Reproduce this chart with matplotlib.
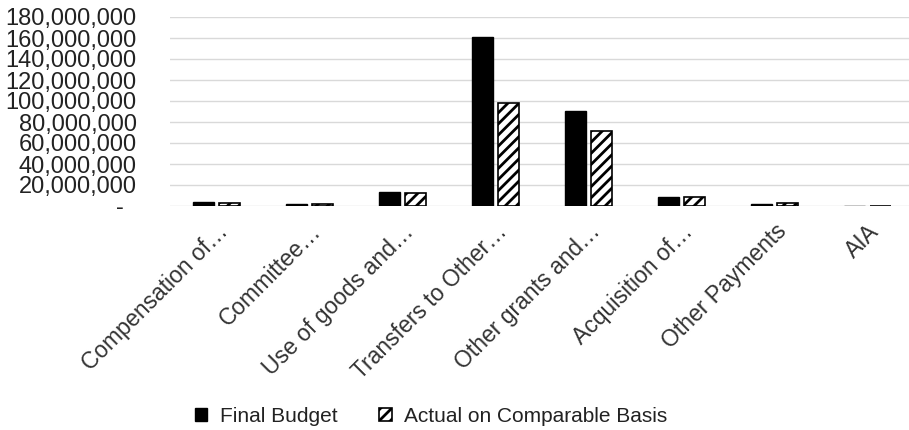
import matplotlib
matplotlib.use("Agg")
import matplotlib.pyplot as plt
import numpy as np
from matplotlib.ticker import FuncFormatter

categories = ["Compensation of…", "Committee…", "Use of goods and…", "Transfers to Other…",
              "Other grants and…", "Acquisition of…", "Other Payments", "AIA"]
final_budget = [4_000_000, 2_000_000, 13_000_000, 161_000_000, 90_500_000, 9_000_000, 2_000_000, 0]
actual = [3_000_000, 2_000_000, 12_500_000, 98_000_000, 71_000_000, 8_500_000, 3_000_000, 0]
yticks = list(range(0, 180_000_001, 20_000_000))

plt.rcParams['font.family'] = ['Liberation Sans', 'DejaVu Sans']
plt.rcParams['hatch.linewidth'] = 2.0

fig = plt.figure(figsize=(9.09, 4.30), dpi=100)
ax = fig.add_axes([170/909, 1 - 206/430, 744/909, (206 - 17)/430])

x = np.arange(len(categories))
w = 0.235
ax.bar(x - 0.14, final_budget, w, color='black', edgecolor='black', label='Final Budget', zorder=3)
ax.bar(x + 0.14, actual, w, color='white', edgecolor='black', hatch='///', linewidth=1.2,
       label='Actual on Comparable Basis', zorder=3)

ax.set_xlim(-0.5, len(categories) - 0.5)
ax.set_ylim(0, 180_000_000)
ax.set_yticks(yticks)
ax.yaxis.set_major_formatter(FuncFormatter(lambda v, p: "-  " if v == 0 else f"{int(v):,}"))
ax.tick_params(axis='y', length=0, pad=24, labelsize=17, labelcolor='#222222')
ax.set_xticks(x)
ax.set_xticklabels(categories, rotation=45, ha='right', rotation_mode='anchor', fontsize=16.5,
                   color='#333333')
ax.tick_params(axis='x', length=0, pad=10)
for s in ax.spines.values():
    s.set_visible(False)
ax.grid(axis='y', color='#d9d9d9', linewidth=1.0, zorder=0)
ax.set_axisbelow(True)

leg = fig.legend(loc='center', bbox_to_anchor=(431/909, 1 - 416/430), ncol=2, frameon=False,
                 fontsize=15, handlelength=0.6, handleheight=0.6, columnspacing=2.0,
                 handletextpad=0.6)
for t in leg.get_texts():
    t.set_color('#222222')

fig.savefig("out.png", dpi=100)
